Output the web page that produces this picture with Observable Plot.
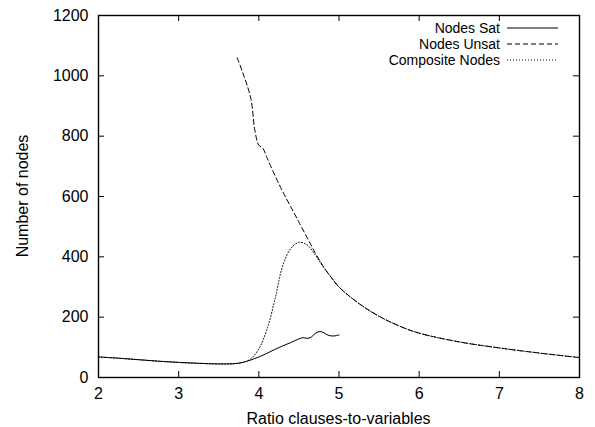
<!DOCTYPE html>
<html>
<head>
<meta charset="utf-8">
<script src="https://cdn.jsdelivr.net/npm/d3@7"></script>
<script src="https://cdn.jsdelivr.net/npm/@observablehq/plot@0.6"></script>
<style>
  html, body { margin: 0; padding: 0; background: #fff; }
  svg { font-family: "Liberation Sans", Arial, sans-serif; }
</style>
</head>
<body>
<div id="chart"></div>
<script>
// Nodes Sat
const satX = [2, 2.25, 2.5, 2.75, 3, 3.25, 3.5, 3.7, 3.8, 3.9, 4.0, 4.1, 4.2, 4.3, 4.4, 4.5, 4.55, 4.6, 4.65, 4.7, 4.75, 4.8, 4.85, 4.9, 4.95, 5.0];
const satY = [68, 64, 59, 54, 50, 47, 45, 46, 50, 58, 68, 80, 93, 105, 116, 128, 132, 130, 133, 145, 152, 150, 142, 138, 138, 141];

// Nodes Unsat
const unsatX = [3.73, 3.8, 3.9, 3.95, 4.0, 4.05, 4.1, 4.2, 4.3, 4.4, 4.5, 4.6, 4.7, 4.8, 4.9, 5.0, 5.25, 5.5, 5.75, 6.0, 6.5, 7.0, 7.5, 8.0];
const unsatY = [1060, 1010, 925, 820, 770, 760, 730, 670, 615, 565, 515, 465, 415, 370, 333, 300, 245, 203, 171, 147, 118, 98, 81, 66];

// Composite Nodes
const compX = [2, 2.25, 2.5, 2.75, 3, 3.25, 3.5, 3.7, 3.8, 3.9, 4.0, 4.1, 4.2, 4.3, 4.4, 4.5, 4.6, 4.7, 4.8, 4.9, 5.0, 5.25, 5.5, 5.75, 6.0, 6.5, 7.0, 7.5, 8.0];
const compY = [68, 64, 59, 54, 50, 47, 45, 46, 50, 62, 95, 158, 258, 372, 428, 448, 440, 408, 368, 333, 300, 245, 203, 171, 147, 118, 98, 81, 66];

const xTicks = [2, 3, 4, 5, 6, 7, 8];
const yTicks = [0, 200, 400, 600, 800, 1000, 1200];

const seriesNames = ["Nodes Sat", "Nodes Unsat", "Composite Nodes"];
const seriesDash = [null, "5,3", "1,2"];

const sat = satX.map((x, i) => ({x, y: satY[i]}));
const unsat = unsatX.map((x, i) => ({x, y: unsatY[i]}));
const comp = compX.map((x, i) => ({x, y: compY[i]}));

const W = 595, H = 427;
const mt = 15, mb = 50, ml = 98, mr = 16;
const fh = H - mt - mb, fw = W - ml - mr;
const tl = 6;
const FS = 16;

const chart = Plot.plot({
  width: W, height: H,
  marginTop: mt, marginBottom: mb, marginLeft: ml, marginRight: mr,
  style: {fontFamily: '"Liberation Sans", Arial, sans-serif', fontSize: FS + "px", background: "#fff", color: "#000"},
  x: {domain: [2, 8]},
  y: {domain: [0, 1200]},
  marks: [
    Plot.axisX(xTicks, {tickSize: 0, tickPadding: 10, label: null, fontSize: FS, tickFormat: d3.format("d")}),
    Plot.axisY(yTicks, {tickSize: 0, tickPadding: 10, label: null, fontSize: FS, tickFormat: d3.format("d")}),
    Plot.tickX(xTicks, {x: d => d, insetTop: fh - tl, stroke: "#000"}),
    Plot.tickX(xTicks, {x: d => d, insetBottom: fh - tl, stroke: "#000"}),
    Plot.tickY(yTicks, {y: d => d, insetRight: fw - tl, stroke: "#000"}),
    Plot.tickY(yTicks, {y: d => d, insetLeft: fw - tl, stroke: "#000"}),
    Plot.line(comp, {x: "x", y: "y", curve: "catmull-rom", stroke: "#000", strokeWidth: 1, strokeDasharray: seriesDash[2]}),
    Plot.line(unsat, {x: "x", y: "y", curve: "catmull-rom", stroke: "#000", strokeWidth: 1, strokeDasharray: seriesDash[1]}),
    Plot.line(sat, {x: "x", y: "y", curve: "catmull-rom", stroke: "#000", strokeWidth: 1}),
    Plot.frame({stroke: "#000", strokeWidth: 1.4})
  ]
});

const svg = d3.select(chart);
// axis titles
svg.append("text")
  .attr("x", ml + fw / 2).attr("y", 424)
  .attr("text-anchor", "middle").attr("font-size", FS).attr("fill", "#000")
  .text("Ratio clauses-to-variables");
svg.append("text")
  .attr("transform", `translate(28,${mt + fh / 2}) rotate(-90)`)
  .attr("text-anchor", "middle").attr("font-size", FS).attr("fill", "#000")
  .text("Number of nodes");
// legend
const lg = svg.append("g");
seriesNames.forEach((name, i) => {
  const cy = 28 + i * 16;
  lg.append("text")
    .attr("x", 500).attr("y", cy).attr("dy", "0.35em")
    .attr("text-anchor", "end").attr("font-size", 14).attr("fill", "#000")
    .text(name);
  const ln = lg.append("line")
    .attr("x1", 507).attr("x2", 558).attr("y1", cy).attr("y2", cy)
    .attr("stroke", "#000").attr("stroke-width", 1);
  if (seriesDash[i]) ln.attr("stroke-dasharray", seriesDash[i]);
});

document.getElementById("chart").appendChild(chart);
</script>
</body>
</html>
